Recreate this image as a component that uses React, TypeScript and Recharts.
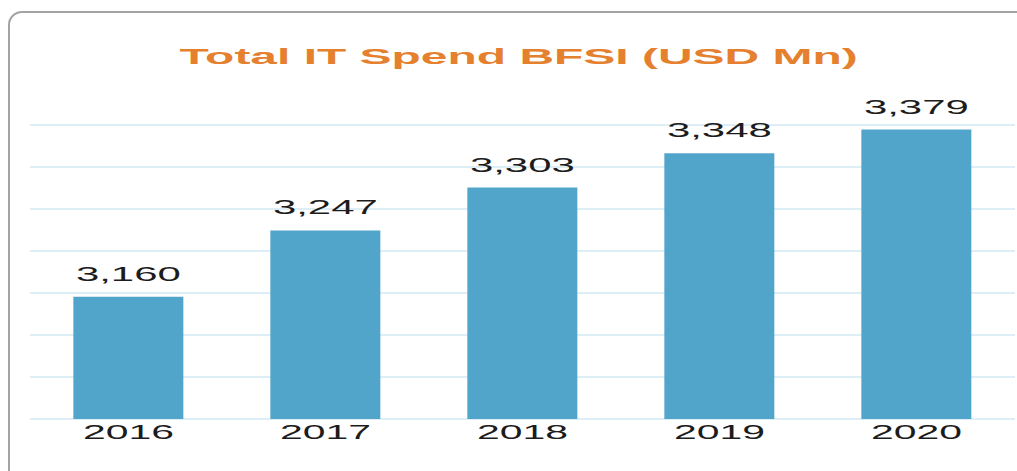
import { BarChart, Bar, XAxis, YAxis, CartesianGrid, LabelList } from 'recharts'

const years = ['2016', '2017', '2018', '2019', '2020']
const spend = [3160, 3247, 3303, 3348, 3379]
const gridTicks = [3000, 3055, 3110, 3165, 3220, 3275, 3330, 3385]

const data = years.map((year, i) => ({ year, spend: spend[i] }))

const textFont = '"Liberation Sans", Arial, sans-serif'

function YearTick(props: any) {
    const { x, y, payload } = props
    return (
        <text
            transform={`translate(${x},${y + 20}) scale(2.1,1)`}
            textAnchor="middle"
            fontFamily={textFont}
            fontSize={19.5}
            fill="#1c1c1c"
        >
            {payload.value}
        </text>
    )
}

function ValueLabel(props: any) {
    const { x, y, width, value } = props
    const cx = Number(x) + Number(width) / 2
    return (
        <text
            transform={`translate(${cx},${Number(y) - 16}) scale(2.15,1)`}
            textAnchor="middle"
            fontFamily={textFont}
            fontSize={19.5}
            fill="#1c1c1c"
        >
            {Number(value).toLocaleString('en-US')}
        </text>
    )
}

export default function App() {
    return (
        <div
            style={{
                position: 'absolute',
                left: 0,
                top: 0,
                width: 1017,
                height: 471,
                overflow: 'hidden',
                background: '#ffffff'
            }}
        >
            {/* rounded frame, runs off the right and bottom edges */}
            <div
                style={{
                    position: 'absolute',
                    left: 8,
                    top: 11,
                    width: 1040,
                    height: 500,
                    border: '2px solid #a3a3a3',
                    borderRadius: 14,
                    boxSizing: 'border-box'
                }}
            />

            <svg
                width={1017}
                height={100}
                style={{ position: 'absolute', left: 0, top: 0 }}
            >
                <text
                    transform="translate(518.5,64) scale(2.18,1)"
                    textAnchor="middle"
                    fontFamily={textFont}
                    fontWeight="bold"
                    fontSize={22}
                    fill="#e5802e"
                >
                    Total IT Spend BFSI (USD Mn)
                </text>
            </svg>

            <div style={{ position: 'absolute', left: 0, top: 0 }}>
                <BarChart
                    width={1017}
                    height={471}
                    data={data}
                    margin={{ top: 125, right: 2, bottom: 22, left: 30 }}
                    barCategoryGap="22%"
                >
                    <CartesianGrid
                        vertical={false}
                        stroke="#d3e9f5"
                        strokeWidth={1.5}
                    />
                    <XAxis
                        dataKey="year"
                        axisLine={false}
                        tickLine={false}
                        tickSize={0}
                        tickMargin={0}
                        height={30}
                        interval={0}
                        tick={<YearTick />}
                    />
                    <YAxis
                        hide
                        domain={[3000, 3385]}
                        ticks={gridTicks}
                        allowDataOverflow
                    />
                    <Bar
                        dataKey="spend"
                        fill="#52a5ca"
                        isAnimationActive={false}
                    >
                        <LabelList dataKey="spend" content={<ValueLabel />} />
                    </Bar>
                </BarChart>
            </div>
        </div>
    )
}
